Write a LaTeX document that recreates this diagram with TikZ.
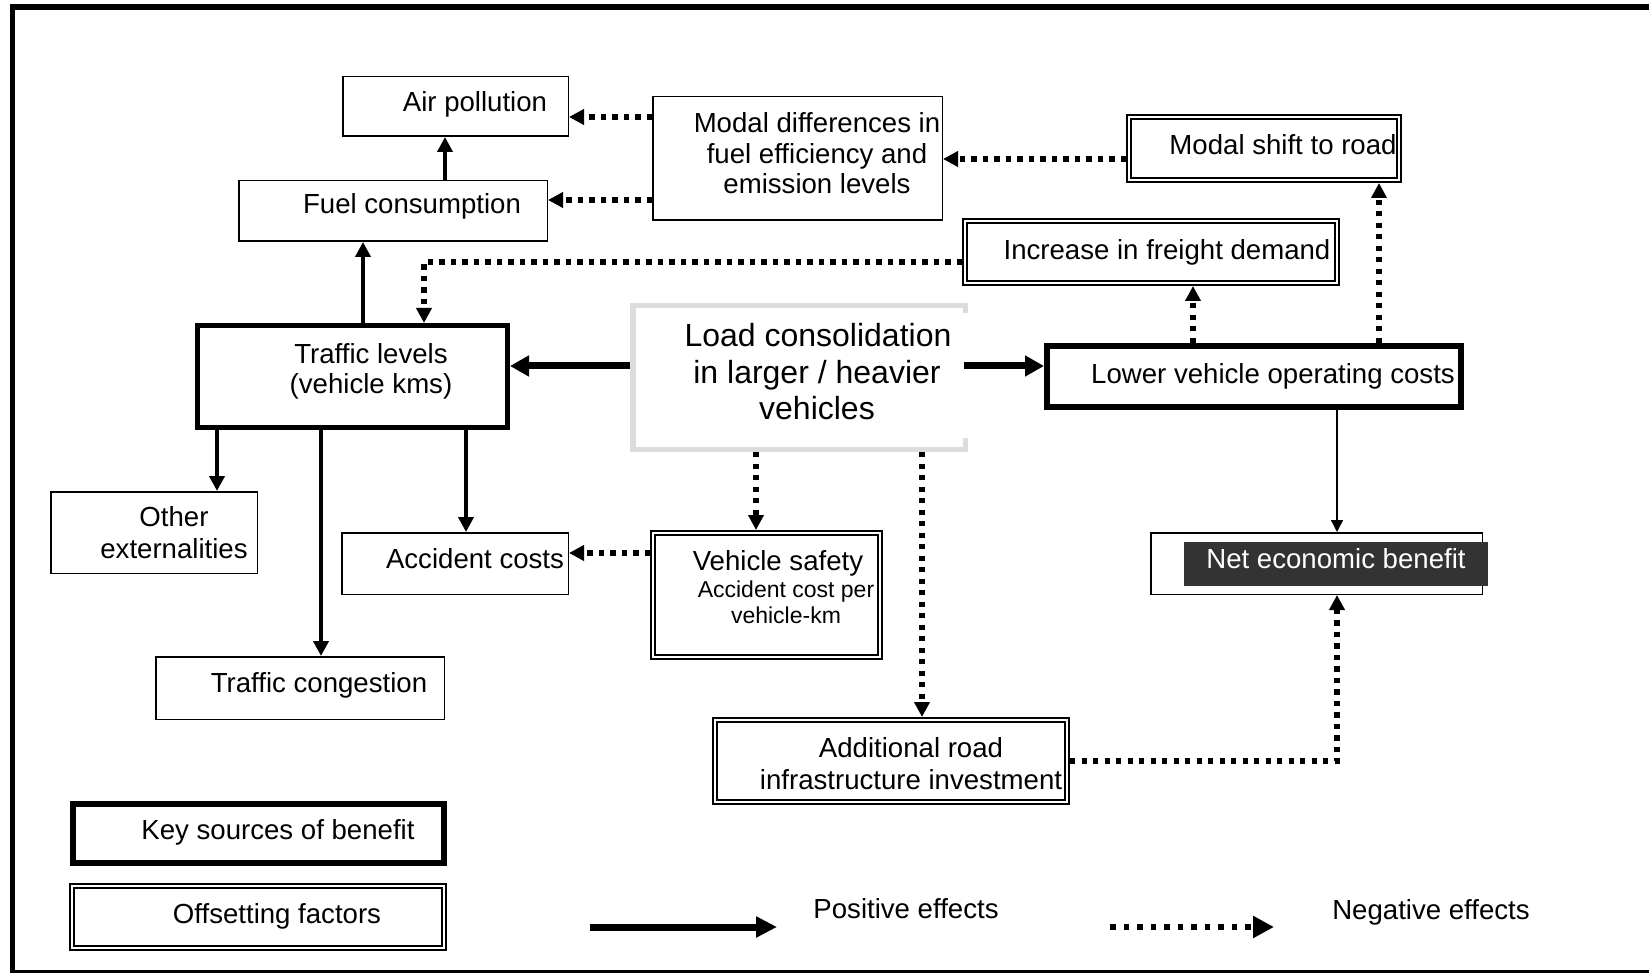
\documentclass[tikz,border=0pt]{standalone}
\usepackage{fontspec}
\setmainfont{Liberation Sans}
\usetikzlibrary{arrows.meta,calc}
\definecolor{lgray}{RGB}{220,220,220}
\definecolor{dgray}{RGB}{51,51,51}
\tikzset{
  thinbox/.style={draw, line width=1.5pt, inner sep=0pt, outer sep=0.75pt},
  thickbox/.style={draw, line width=5pt, inner sep=0pt, outer sep=2.5pt},
  heavybox/.style={draw, line width=6pt, inner sep=0pt, outer sep=3pt},
  dblbox/.style={draw, line width=1.6pt, double, double distance=2.6pt, inner sep=0pt, outer sep=2.9pt},
  txt/.style={anchor=base, inner sep=0pt, font=\fontsize{27.6pt}{31.5pt}\selectfont},
  bigtxt/.style={anchor=base, inner sep=0pt, font=\fontsize{32pt}{37pt}\selectfont},
  smalltxt/.style={anchor=base, inner sep=0pt, font=\fontsize{23pt}{27pt}\selectfont},
  posv/.style={line width=4.8pt, -{Triangle[length=15pt,width=15pt]}},
  posh/.style={line width=7pt, -{Triangle[length=19pt,width=20pt]}},
  thinarrow/.style={line width=1.5pt, -{Triangle[length=12pt,width=12pt]}},
  neg/.style={line width=5.3pt, dash pattern=on 5.3pt off 6.2pt, -{Triangle[length=15pt,width=15pt]}},
  legpos/.style={line width=7pt, -{Triangle[length=21pt,width=20pt]}},
  legneg/.style={line width=5.5pt, dash pattern=on 5.5pt off 8pt, -{Triangle[length=21pt,width=21pt]}},
  loadborder/.style={draw=lgray, line width=5.5pt},
}
\begin{document}
\begin{tikzpicture}[x=1pt,y=-1pt]
\useasboundingbox (0,0) rectangle (1649,973);
% frame
\draw[line width=6pt] (1660,7) -- (9.6,7);
\draw[line width=5.7pt] (12.5,4) -- (12.5,973);
\draw[line width=3.5pt] (9.6,971.5) -- (1660,971.5);

% boxes
\node[thinbox, minimum width=225.5pt, minimum height=59.5pt] (air) at (455.5,106.5) {};
\node[thinbox, minimum width=308.5pt, minimum height=60.5pt] (fuel) at (393,211) {};
\node[thinbox, minimum width=289.5pt, minimum height=123.5pt] (moddiff) at (797.5,158.5) {};
\node[dblbox, minimum width=270.2pt, minimum height=63.2pt] (modshift) at (1264,148.5) {};
\node[dblbox, minimum width=372.2pt, minimum height=62.2pt] (incr) at (1151,252) {};
\node[thickbox, minimum width=310pt, minimum height=102pt] (traffic) at (352.5,376.5) {};
\node[inner sep=0pt, outer sep=0pt, minimum width=338pt, minimum height=149pt] (load) at (799,377.5) {};
\node[heavybox, minimum width=414pt, minimum height=61pt] (lower) at (1254,376.5) {};
\node[thinbox, minimum width=206.5pt, minimum height=81.5pt] (other) at (154,532.5) {};
\node[thinbox, minimum width=226.5pt, minimum height=61.5pt] (acc) at (455,563.5) {};
\node[dblbox, minimum width=227.2pt, minimum height=124.2pt] (vsafe) at (766.5,595) {};
\node[thinbox, minimum width=331.5pt, minimum height=61.5pt] (net) at (1316.5,563.5) {};
\node[fill=dgray, inner sep=0pt, outer sep=0pt, minimum width=304pt, minimum height=44pt] (netlbl) at (1336,564) {};
\node[thinbox, minimum width=288.5pt, minimum height=62.5pt] (cong) at (300,688) {};
\node[dblbox, minimum width=352.2pt, minimum height=82.2pt] (addroad) at (891,761) {};
\node[heavybox, minimum width=371pt, minimum height=59pt] (key) at (258.5,833.5) {};
\node[dblbox, minimum width=372.2pt, minimum height=62.2pt] (offset) at (258,917) {};

% load consolidation border (right side partly missing)
\draw[loadborder] ([shift={(-2.75pt,-10pt)}]load.north east) -- ([shift={(-2.75pt,-2.75pt)}]load.north east)
  -- ([shift={(2.75pt,-2.75pt)}]load.north west) -- ([shift={(2.75pt,2.75pt)}]load.south west)
  -- ([shift={(-2.75pt,2.75pt)}]load.south east) -- ([shift={(-2.75pt,14pt)}]load.south east);

% texts
\node[txt] (tair) at (475,112) {Air pollution};
\node[txt] (tfuel) at (412,214) {Fuel consumption};
\node[txt] (tmd1) at (817,133) {Modal differences in};
\node[txt] (tmd2) at (817,164) {fuel efficiency and};
\node[txt] (tmd3) at (817,194) {emission levels};
\node[txt] (tms) at (1283,155) {Modal shift to road};
\node[txt] (tinc) at (1167,260) {Increase in freight demand};
\node[txt] (ttr1) at (371,363) {Traffic levels};
\node[txt] (ttr2) at (371,393) {(vehicle kms)};
\node[bigtxt] (tl1) at (818,347) {Load consolidation};
\node[bigtxt] (tl2) at (817,384) {in larger / heavier};
\node[bigtxt] (tl3) at (817,420) {vehicles};
\node[txt] (tlow) at (1273,384) {Lower vehicle operating costs};
\node[txt] (toth1) at (174,526) {Other};
\node[txt] (toth2) at (174,558) {externalities};
\node[txt] (tacc) at (475,568.5) {Accident costs};
\node[txt] (tvs1) at (778,570) {Vehicle safety};
\node[smalltxt] (tvs2) at (786,597) {Accident cost per};
\node[smalltxt] (tvs3) at (786,623.5) {vehicle-km};
\node[txt, text=white] (tnet) at (1336,568) {Net economic benefit};
\node[txt] (tcong) at (319,692.5) {Traffic congestion};
\node[txt] (tad1) at (911,757) {Additional road};
\node[txt] (tad2) at (911,789) {infrastructure investment};
\node[txt] (tkey) at (278,839) {Key sources of benefit};
\node[txt] (toff) at (277,923) {Offsetting factors};
\node[txt] (tpos) at (906,918.5) {Positive effects};
\node[txt] (tneg) at (1431,919) {Negative effects};

% positive connectors
\coordinate (s1) at ([xshift=10.5pt]traffic.north);
\draw[posv] (s1) -- (s1 |- fuel.south);
\coordinate (s2) at ([xshift=52pt]fuel.north);
\draw[posv] (s2) -- (s2 |- air.south);
\coordinate (s3) at ([xshift=-135.5pt]traffic.south);
\draw[posv] (s3) -- (s3 |- other.north);
\coordinate (s4) at ([xshift=-31.5pt]traffic.south);
\draw[posv] (s4) -- (s4 |- cong.north);
\coordinate (s5) at ([xshift=113.5pt]traffic.south);
\draw[posv] (s5) -- (s5 |- acc.north);
\coordinate (s6) at ([yshift=11.5pt]load.west);
\draw[posh] (s6) -- (s6 -| traffic.east);
\coordinate (s7) at ([yshift=11.5pt,xshift=-4pt]load.east);
\draw[posh] (s7) -- (s7 -| lower.west);
\coordinate (s8) at ([xshift=83pt]lower.south);
\draw[thinarrow] (s8) -- (s8 |- net.north);

% negative connectors
\coordinate (n1) at ([yshift=41.5pt]moddiff.west);
\draw[neg] (n1) -- (n1 -| air.east);
\coordinate (n2) at ([yshift=-41.5pt]moddiff.west);
\draw[neg] (n2) -- (n2 -| fuel.east);
\coordinate (n3) at ([yshift=-10.5pt]modshift.west);
\draw[neg] (n3) -- (n3 -| moddiff.east);
\coordinate (n4) at ([yshift=-10pt]incr.west);
\coordinate (n4e) at ([xshift=71.5pt]traffic.north);
\draw[neg] (n4) -| (n4e);
\coordinate (n5) at ([xshift=-61pt]lower.north);
\draw[neg] (n5) -- (n5 |- incr.south);
\coordinate (n6) at ([xshift=125pt]lower.north);
\draw[neg] (n6) -- (n6 |- modshift.south);
\coordinate (n7) at ([xshift=-43pt]load.south);
\draw[neg] (n7) -- (n7 |- vsafe.north);
\coordinate (n8) at ([xshift=123pt]load.south);
\draw[neg] (n8) -- (n8 |- addroad.north);
\coordinate (n9) at ([yshift=42pt]vsafe.west);
\draw[neg] (n9) -- (n9 -| acc.east);
\coordinate (n10) at ([xshift=20.5pt]net.south);
\draw[neg] (addroad.east) -| (n10);

% legend arrows
\coordinate (lp1) at (590,927);
\coordinate (lp2) at (777,927);
\draw[legpos] (lp1) -- (lp2);
\coordinate (ln1) at (1110,927);
\coordinate (ln2) at (1274,927);
\draw[legneg] (ln1) -- (ln2);
\end{tikzpicture}
\end{document}
